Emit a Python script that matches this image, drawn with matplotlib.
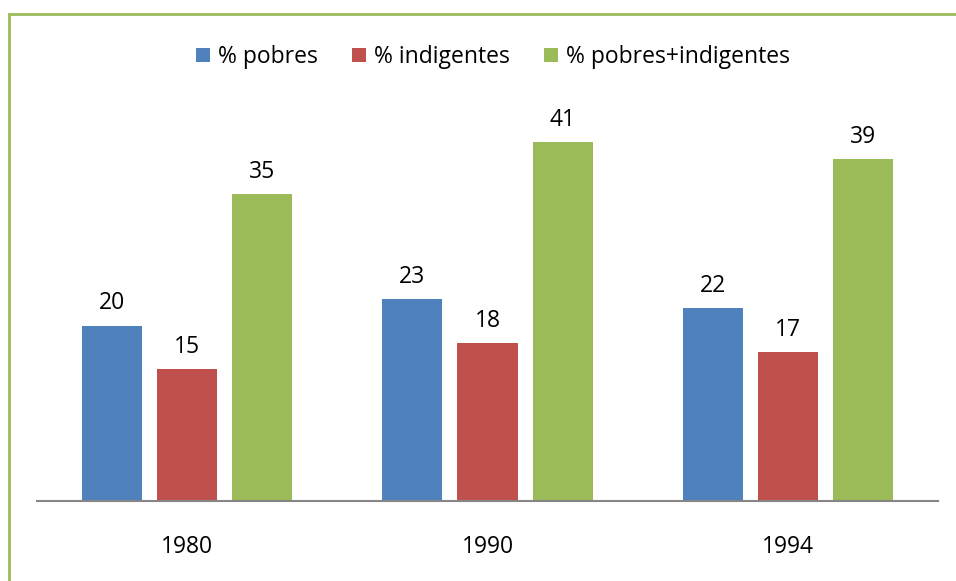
import matplotlib
matplotlib.use("Agg")
import matplotlib.pyplot as plt
from matplotlib.patches import Rectangle
import numpy as np

plt.rcParams['font.family'] = ['Open Sans', 'DejaVu Sans']

years = ["1980", "1990", "1994"]
series_names = ["% pobres", "% indigentes", "% pobres+indigentes"]
pobres = [20, 23, 22]
indigentes = [15, 18, 17]
pobres_indigentes = [35, 41, 39]

colors = ["#4F81BD", "#C0504D", "#9BBB59"]
FS = 16.5

W, H = 956, 581
fig = plt.figure(figsize=(W / 100, H / 100), dpi=100)

# green outer border (only top/left visible, rest runs off the image)
fig.patches.append(Rectangle((8.5 / W, -0.1), 2.0, (H - 13.5) / H + 0.1,
                             transform=fig.transFigure, fill=False,
                             edgecolor="#9BBB59", linewidth=2.0))

ax = fig.add_axes([37 / W, (H - 500.5) / H, 901 / W, 393.75 / H])

x = np.arange(len(years))
width = 0.2
offsets = [-0.25, 0.0, 0.25]
for vals, name, col, off in zip([pobres, indigentes, pobres_indigentes],
                                series_names, colors, offsets):
    bars = ax.bar(x + off, vals, width, color=col, label=name, zorder=2)
    for b, v in zip(bars, vals):
        ax.annotate(str(v), (b.get_x() + b.get_width() / 2, b.get_height()),
                    xytext=(0, 16), textcoords="offset points",
                    ha="center", va="center", fontsize=FS, color="black")

ax.set_xlim(-0.5, 2.5)
ax.set_ylim(0, 45)
ax.set_xticks(x)
ax.set_xticklabels(years, fontsize=FS)
ax.tick_params(axis="x", length=0, pad=25)
ax.set_yticks([])
for s in ["top", "right", "left"]:
    ax.spines[s].set_visible(False)
ax.spines["bottom"].set_color("#868686")
ax.spines["bottom"].set_linewidth(1.5)
ax.spines["bottom"].set_zorder(3)

fig.legend(loc="center", bbox_to_anchor=(493 / W, (H - 57) / H), ncol=3,
           frameon=False, fontsize=FS, handlelength=0.6, handleheight=0.6,
           handletextpad=0.35, columnspacing=1.5, borderpad=0)

fig.savefig("out.png", dpi=100)
